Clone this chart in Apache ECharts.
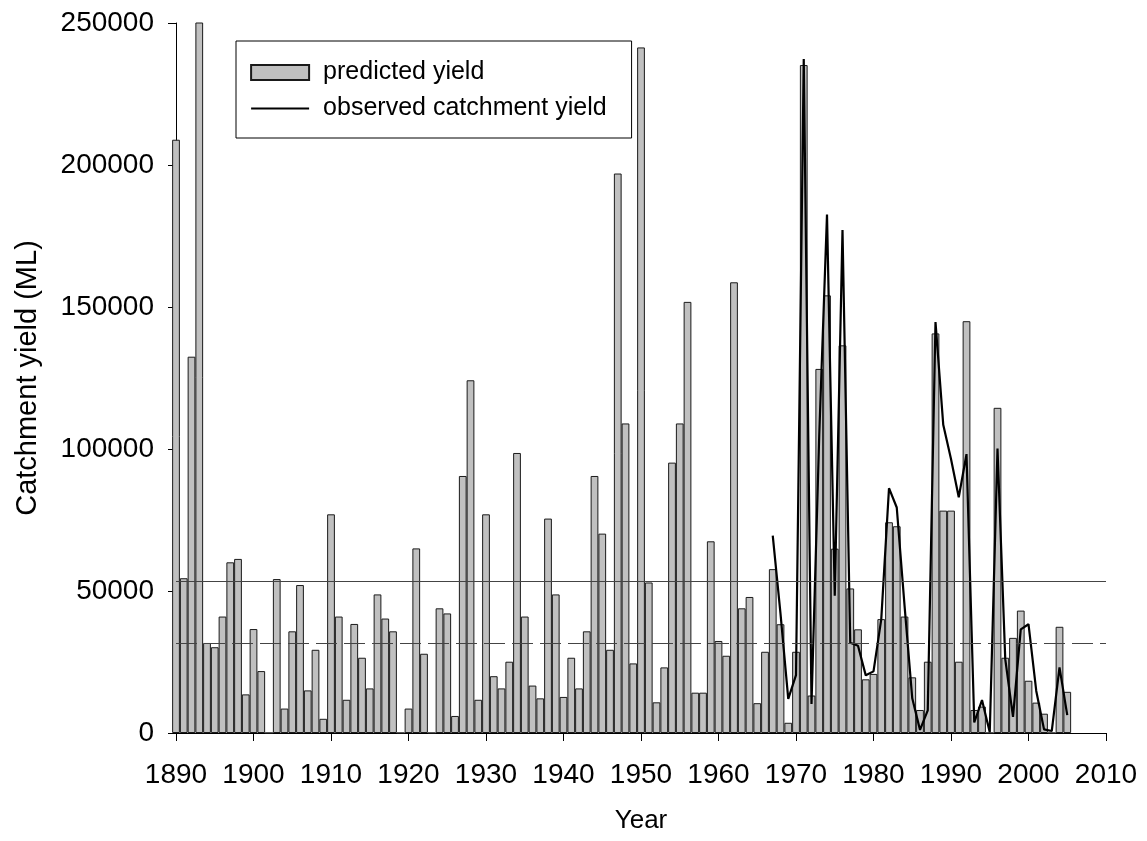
<!DOCTYPE html>
<html>
<head>
<meta charset="utf-8">
<script src="https://cdn.jsdelivr.net/npm/echarts@6/dist/echarts.min.js"></script>
<style>
html,body{margin:0;padding:0;background:#fff;}
#chart{width:1147px;height:841px;}
</style>
</head>
<body>
<div id="chart"></div>
<script>
// Years (categories) for predicted yield
const predYears = [
  1890,1891,1892,1893,1894,1895,1896,1897,1898,1899,
  1900,1901,1902,1903,1904,1905,1906,1907,1908,1909,
  1910,1911,1912,1913,1914,1915,1916,1917,1918,1919,
  1920,1921,1922,1923,1924,1925,1926,1927,1928,1929,
  1930,1931,1932,1933,1934,1935,1936,1937,1938,1939,
  1940,1941,1942,1943,1944,1945,1946,1947,1948,1949,
  1950,1951,1952,1953,1954,1955,1956,1957,1958,1959,
  1960,1961,1962,1963,1964,1965,1966,1967,1968,1969,
  1970,1971,1972,1973,1974,1975,1976,1977,1978,1979,
  1980,1981,1982,1983,1984,1985,1986,1987,1988,1989,
  1990,1991,1992,1993,1994,1995,1996,1997,1998,1999,
  2000,2001,2002,2003,2004,2005
];
// Predicted yield (ML)
const predictedYield = [
  208900,54500,132500,275000,31700,30200,41000,60100,61300,13600,
  36600,21800,0,54200,8600,35800,52100,15000,29300,5000,
  77000,41000,11700,38400,26500,15700,48800,40300,35800,0,
  8600,65000,27900,0,43900,42100,6000,90500,124200,11700,
  77000,20000,15700,25100,98600,41000,16700,12200,75500,48800,
  12700,26500,15700,35800,90500,70200,29300,197000,109000,24500,
  241400,53000,10800,23100,95200,109000,151800,14200,14200,67500,
  32400,27200,158700,43900,47900,10500,28600,57700,38300,3600,
  28600,235200,13200,128200,154100,64900,136500,50900,36500,18900,
  20800,40100,74200,72800,41000,19600,8100,25100,140700,78300,
  78300,25100,145000,8100,9300,0,114500,26500,33500,43100,
  18400,10700,6800,0,37400,14500
];
// Observed catchment yield (ML)
const obsYears = [
  1967,1968,1969,1970,1971,1972,1973,1974,1975,1976,
  1977,1978,1979,1980,1981,1982,1983,1984,1985,1986,
  1987,1988,1989,1990,1991,1992,1993,1994,1995,1996,
  1997,1998,1999,2000,2001,2002,2003,2004,2005
];
const observedYield = [
  69500,42000,12000,20400,237300,10200,105000,182600,48300,177100,
  31800,30700,20300,21700,40000,86200,79400,45000,12200,1100,
  8000,144700,108500,96500,83000,98200,3700,11600,300,100200,
  26000,5700,36500,38300,14800,1300,700,23100,6300
];
// Reference lines (ML)
const solidRefLine = 53300;
const dashedRefLine = 31700;
// Axis ticks
const xTicks = [1890,1900,1910,1920,1930,1940,1950,1960,1970,1980,1990,2000,2010];
const yTicks = [0,50000,100000,150000,200000,250000];

const lineData = obsYears.map((y, i) => [y, observedYield[i]]);
const xMin = xTicks[0], xMax = xTicks[xTicks.length - 1];

const chart = echarts.init(document.getElementById('chart'), null, {renderer: 'canvas'});
const FONT = 'Liberation Sans';
const option = {
  animation: false,
  backgroundColor: '#fff',
  textStyle: {fontFamily: FONT, color: '#000'},
  grid: {left: 176, right: 41, top: 23, bottom: 108, containLabel: false},
  legend: {
    left: 236, top: 41, orient: 'vertical',
    itemWidth: 58, itemHeight: 15, itemGap: 11,
    padding: [19, 25, 17, 14],
    borderColor: '#000', borderWidth: 1, backgroundColor: '#fff',
    textStyle: {fontSize: 25, color: '#000', fontFamily: FONT, padding: [0, 0, 0, 9]},
    data: [
      {name: 'predicted yield', icon: 'rect'},
      {name: 'observed catchment yield',
       itemStyle: {color: 'rgba(0,0,0,0)', borderColor: 'rgba(0,0,0,0)', borderWidth: 0, opacity: 0},
       lineStyle: {color: '#000', width: 2.2}}
    ]
  },
  xAxis: [
    {
      type: 'value', min: xMin, max: xMax, interval: 10,
      name: 'Year', nameLocation: 'middle', nameGap: 75,
      nameTextStyle: {fontSize: 26, color: '#000', fontFamily: FONT},
      axisLine: {show: true, lineStyle: {color: '#000', width: 1}},
      axisTick: {show: true, length: 8, lineStyle: {color: '#000', width: 1}},
      axisLabel: {fontSize: 28, color: '#000', margin: 28, fontFamily: FONT, formatter: v => String(v)},
      splitLine: {show: false}
    },
    {
      type: 'category', data: predYears.map(String), boundaryGap: false,
      min: 0, max: xMax - xMin, show: false, position: 'bottom'
    }
  ],
  yAxis: {
    type: 'value', min: yTicks[0], max: yTicks[yTicks.length - 1], interval: 50000,
    name: 'Catchment yield (ML)', nameLocation: 'middle', nameGap: 134,
    nameTextStyle: {fontSize: 29, color: '#000', fontFamily: FONT},
    axisLine: {show: true, lineStyle: {color: '#000', width: 1}},
    axisTick: {show: true, length: 8, lineStyle: {color: '#000', width: 1}},
    axisLabel: {fontSize: 28, color: '#000', margin: 22, fontFamily: FONT, formatter: v => String(v)},
    splitLine: {show: false}
  },
  series: [
    {
      name: 'predicted yield', type: 'bar', xAxisIndex: 1, data: predictedYield,
      barWidth: '100%', barCategoryGap: '0%', clip: true, z: 2,
      itemStyle: {color: '#c0c0c0', borderColor: '#1a1a1a', borderWidth: 1},
      markLine: {
        silent: true, symbol: 'none', label: {show: false},
        data: [
          {yAxis: solidRefLine, lineStyle: {type: 'solid', color: '#444', width: 1}},
          {yAxis: dashedRefLine, lineStyle: {type: [21, 7], color: '#444', width: 1}}
        ]
      }
    },
    {
      name: 'observed catchment yield', type: 'line', xAxisIndex: 0, data: lineData,
      symbol: 'none', showSymbol: false, z: 4,
      lineStyle: {color: '#000', width: 2.2},
      itemStyle: {color: '#000'}
    }
  ]
};
chart.setOption(option);
</script>
</body>
</html>
